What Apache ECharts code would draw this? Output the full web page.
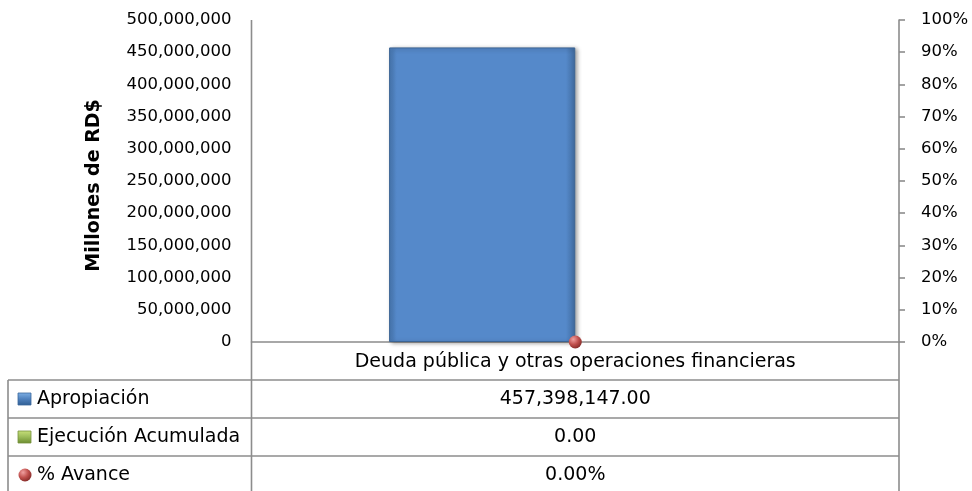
<!DOCTYPE html>
<html>
<head>
<meta charset="utf-8">
<script src="https://cdn.jsdelivr.net/npm/echarts@6/dist/echarts.min.js"></script>
<style>
  html, body { margin: 0; padding: 0; background: #ffffff; }
  #chart { width: 972px; height: 491px; }
</style>
</head>
<body>
<div id="chart"></div>
<script>
// Budget execution by category
const categories = ['Deuda pública y otras operaciones financieras'];
const apropiacion = [457398147.00];
const ejecucion = [0.00];
const avance = [0.0];            // fraction of the appropriation executed
const seriesNames = ['Apropiación', 'Ejecución Acumulada', '% Avance'];
const leftTicks = { min: 0, max: 500000000, interval: 50000000 };
const rightTicks = { min: 0, max: 1, interval: 0.1 };

const FONT = 'DejaVu Sans';
const FS_AXIS = 16.5;   // tick labels
const FS_TABLE = 19;    // category label and data table
const GRID = { left: 251.5, right: 73, top: 20, bottom: 149 };
const W = 972, H = 491;
const LINE = '#8c8c8c';

const fmtNum = v => v.toLocaleString('en-US', { minimumFractionDigits: 2, maximumFractionDigits: 2 });
const fmtPct = v => (v * 100).toFixed(2) + '%';

const chart = echarts.init(document.getElementById('chart'), null, { renderer: 'canvas' });

// data table under the plot
const plotRight = W - GRID.right;
const axisY = H - GRID.bottom;
const rowH = 38;
const tableLeft = 8;
const midX = (GRID.left + plotRight) / 2;
const rows = [
  { name: seriesNames[0], value: fmtNum(apropiacion[0]) },
  { name: seriesNames[1], value: fmtNum(ejecucion[0]) },
  { name: seriesNames[2], value: fmtPct(avance[0]) }
];

const graphics = [];
// vertical lines of the table
graphics.push({ type: 'line', shape: { x1: GRID.left, y1: GRID.top, x2: GRID.left, y2: H }, style: { stroke: LINE, lineWidth: 1.6 }, z: 1 });
graphics.push({ type: 'line', shape: { x1: plotRight, y1: axisY, x2: plotRight, y2: H }, style: { stroke: LINE, lineWidth: 1.6 }, z: 1 });
graphics.push({ type: 'line', shape: { x1: tableLeft, y1: axisY + rowH, x2: tableLeft, y2: H }, style: { stroke: LINE, lineWidth: 1.6 }, z: 1 });
rows.forEach((r, i) => {
  const top = axisY + rowH * (i + 1);
  graphics.push({ type: 'line', shape: { x1: tableLeft, y1: top, x2: plotRight, y2: top }, style: { stroke: LINE, lineWidth: 1.6 }, z: 1 });
  graphics.push({ type: 'text', style: { text: r.name, x: 37, y: top + rowH / 2, verticalAlign: 'middle', fontFamily: FONT, fontSize: FS_TABLE, fill: '#000' }, z: 2 });
  graphics.push({ type: 'text', style: { text: r.value, x: midX, y: top + rowH / 2, align: 'center', verticalAlign: 'middle', fontFamily: FONT, fontSize: FS_TABLE, fill: '#000' }, z: 2 });
});
// legend keys inside the table
const key1 = axisY + rowH * 1 + rowH / 2;
const key2 = axisY + rowH * 2 + rowH / 2;
const key3 = axisY + rowH * 3 + rowH / 2;
graphics.push({ type: 'rect', shape: { x: 18, y: key1 - 6, width: 13, height: 12 },
  style: { fill: new echarts.graphic.LinearGradient(0, 0, 0, 1, [{ offset: 0, color: '#7fb0e6' }, { offset: 0.5, color: '#4f81bd' }, { offset: 1, color: '#2f5d92' }]), stroke: '#3b679c', lineWidth: 0.8 }, z: 2 });
graphics.push({ type: 'rect', shape: { x: 18, y: key2 - 6, width: 13, height: 12 },
  style: { fill: new echarts.graphic.LinearGradient(0, 0, 0, 1, [{ offset: 0, color: '#c8e07a' }, { offset: 0.5, color: '#9bbb59' }, { offset: 1, color: '#6a8a2e' }]), stroke: '#76923c', lineWidth: 0.8 }, z: 2 });
graphics.push({ type: 'circle', shape: { cx: 25, cy: key3, r: 6.5 },
  style: { fill: new echarts.graphic.RadialGradient(0.35, 0.3, 0.8, [{ offset: 0, color: '#f0a0a0' }, { offset: 0.5, color: '#c0504d' }, { offset: 1, color: '#7a2422' }]) }, z: 2 });

const option = {
  animation: false,
  backgroundColor: '#ffffff',
  grid: GRID,
  xAxis: {
    type: 'category',
    data: categories,
    axisLine: { show: true, lineStyle: { color: LINE, width: 1.6 } },
    axisTick: { show: false },
    axisLabel: { margin: 11, fontFamily: FONT, fontSize: FS_TABLE, color: '#000' }
  },
  yAxis: [
    {
      type: 'value',
      min: leftTicks.min, max: leftTicks.max, interval: leftTicks.interval,
      name: 'Millones de RD$',
      nameLocation: 'middle',
      nameGap: 148,
      nameTextStyle: { fontFamily: FONT, fontSize: 19, fontWeight: 'bold', color: '#000', padding: [0, 9, 0, 0] },
      axisLine: { show: false },
      axisTick: { show: false },
      splitLine: { show: false },
      axisLabel: { margin: 20, fontFamily: FONT, fontSize: FS_AXIS, color: '#000',
        formatter: v => v.toLocaleString('en-US') }
    },
    {
      type: 'value',
      position: 'right',
      min: rightTicks.min, max: rightTicks.max, interval: rightTicks.interval,
      axisLine: { show: true, lineStyle: { color: LINE, width: 1.6 } },
      axisTick: { show: true, length: 6, lineStyle: { color: LINE, width: 1.6 } },
      splitLine: { show: false },
      axisLabel: { margin: 22, fontFamily: FONT, fontSize: FS_AXIS, color: '#000',
        formatter: v => Math.round(v * 100) + '%' }
    }
  ],
  series: [
    {
      name: seriesNames[0],
      type: 'bar',
      data: apropiacion,
      barGap: '0%',
      barCategoryGap: '42.5%',
      itemStyle: {
        color: new echarts.graphic.LinearGradient(0, 0, 1, 0, [
          { offset: 0, color: '#4a7bb6' }, { offset: 0.04, color: '#5589ca' },
          { offset: 0.95, color: '#5589ca' }, { offset: 1, color: '#3f6a9e' }]),
        borderColor: '#3b6494', borderWidth: 1,
        shadowColor: 'rgba(0,0,0,0.35)', shadowBlur: 4, shadowOffsetX: 2, shadowOffsetY: 1
      },
      z: 3
    },
    {
      name: seriesNames[1],
      type: 'bar',
      data: ejecucion,
      itemStyle: { color: '#9bbb59' },
      z: 3
    },
    {
      name: seriesNames[2],
      type: 'line',
      yAxisIndex: 1,
      data: avance,
      symbol: 'circle',
      symbolSize: 13,
      lineStyle: { width: 0 },
      itemStyle: {
        color: new echarts.graphic.RadialGradient(0.35, 0.3, 0.8, [
          { offset: 0, color: '#f0a0a0' }, { offset: 0.5, color: '#c0504d' }, { offset: 1, color: '#7a2422' }])
      },
      z: 5
    }
  ],
  graphic: graphics
};

chart.setOption(option);
</script>
</body>
</html>
